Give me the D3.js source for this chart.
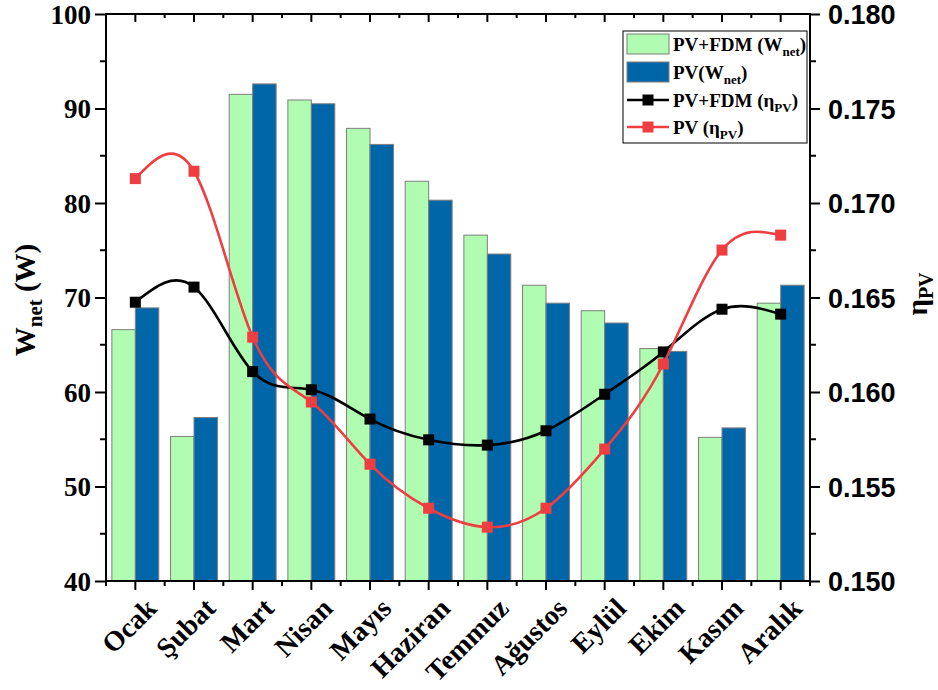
<!DOCTYPE html>
<html>
<head>
<meta charset="utf-8">
<script src="https://cdn.jsdelivr.net/npm/d3@7"></script>
<style>
html,body{margin:0;padding:0;background:#fff;}
svg{display:block;}
</style>
</head>
<body>
<svg id="chart" width="938" height="690"></svg>
<script>
const months = ["Ocak","Şubat","Mart","Nisan","Mayıs","Haziran","Temmuz","Ağustos","Eylül","Ekim","Kasım","Aralık"];
const wnetPVFDM = [66.6,55.3,91.5,90.9,87.9,82.3,76.6,71.3,68.6,64.6,55.2,69.4];
const wnetPV    = [68.9,57.3,92.6,90.5,86.2,80.3,74.6,69.4,67.3,64.3,56.2,71.3];
const etaPVFDM  = [0.16475,0.16555,0.16108,0.16012,0.15857,0.15747,0.15719,0.15795,0.15988,0.16212,0.16438,0.16412];
const etaPV     = [0.17129,0.17168,0.16290,0.15947,0.15618,0.15385,0.15285,0.15385,0.15698,0.16148,0.16751,0.16830];
const leftTicks  = [40,50,60,70,80,90,100];
const rightTicks = [0.150,0.155,0.160,0.165,0.170,0.175,0.180];

const colGreen = "#b0fcb0", colBlue = "#0066a8", colRed = "#ef3e42", colBlack = "#000000";
const serif = "'Liberation Serif','Times New Roman',serif";
const sans  = "'Liberation Sans',Arial,sans-serif";

const svg = d3.select("#chart");
const L = 106, R = 810, T = 14, B = 581;

const x = d3.scaleBand().domain(months).range([L, R]).padding(0);
const yL = d3.scaleLinear().domain([40, 100]).range([B, T]);
const yR = d3.scaleLinear().domain([0.150, 0.180]).range([B, T]);
const bw = x.bandwidth() * 0.4;

// Bars
const g = svg.append("g");
g.selectAll("rect.g1").data(months).enter().append("rect")
  .attr("x", d => x(d) + x.bandwidth()/2 - bw)
  .attr("y", (d,i) => yL(wnetPVFDM[i]))
  .attr("width", bw)
  .attr("height", (d,i) => yL(40) - yL(wnetPVFDM[i]))
  .attr("fill", colGreen).attr("stroke", "#7f7f7f").attr("stroke-width", 1);
g.selectAll("rect.b1").data(months).enter().append("rect")
  .attr("x", d => x(d) + x.bandwidth()/2)
  .attr("y", (d,i) => yL(wnetPV[i]))
  .attr("width", bw)
  .attr("height", (d,i) => yL(40) - yL(wnetPV[i]))
  .attr("fill", colBlue).attr("stroke", "#7f7f7f").attr("stroke-width", 1);

// Lines
const cx = d => x(d) + x.bandwidth()/2;
const line = d3.line().x(d => cx(d[0])).y(d => yR(d[1])).curve(d3.curveNatural);
function series(vals, col) {
  const pts = months.map((m,i) => [m, vals[i]]);
  svg.append("path").attr("d", line(pts)).attr("fill","none")
    .attr("stroke", col).attr("stroke-width", 2.6);
  svg.append("g").selectAll("rect").data(pts).enter().append("rect")
    .attr("x", d => cx(d[0]) - 5.5).attr("y", d => yR(d[1]) - 5.5)
    .attr("width", 11).attr("height", 11).attr("fill", col);
}
series(etaPVFDM, colBlack);
series(etaPV, colRed);

// Axes
const axisG = svg.append("g");
const leftAxis = d3.axisLeft(yL).tickValues(leftTicks).tickSize(11).tickPadding(4).tickFormat(d3.format("d"));
const la = axisG.append("g").attr("transform", `translate(${L},0)`).call(leftAxis);
la.select(".domain").remove();
la.selectAll("text").attr("font-family", serif).attr("font-weight","bold").attr("font-size", 27).attr("fill","#000").attr("dy","0.34em");
la.selectAll("line").attr("stroke-width", 2);
axisG.append("g").selectAll("line").data(d3.range(45, 100, 10)).enter().append("line")
  .attr("x1", L - 6).attr("x2", L).attr("y1", d => yL(d)).attr("y2", d => yL(d))
  .attr("stroke","#000").attr("stroke-width", 2);

const rightAxis = d3.axisRight(yR).tickValues(rightTicks).tickSize(10).tickPadding(8).tickFormat(d3.format(".3f"));
const ra = axisG.append("g").attr("transform", `translate(${R},0)`).call(rightAxis);
ra.select(".domain").remove();
ra.selectAll("text").attr("font-family", sans).attr("font-weight","bold").attr("font-size", 27).attr("fill","#000").attr("dy","0.36em");
ra.selectAll("line").attr("stroke-width", 2);
axisG.append("g").selectAll("line").data(d3.range(0.1525, 0.180, 0.005)).enter().append("line")
  .attr("x1", R).attr("x2", R + 6).attr("y1", d => yR(d)).attr("y2", d => yR(d))
  .attr("stroke","#000").attr("stroke-width", 2);

// Bottom axis
const bottomAxis = d3.axisBottom(x).tickSize(9).tickFormat("");
const ba = axisG.append("g").attr("transform", `translate(0,${B})`).call(bottomAxis);
ba.select(".domain").remove();
ba.selectAll("line").attr("stroke-width", 2);
const bounds = months.map(m => x(m)).concat([R]);
axisG.append("g").selectAll("line").data(bounds).enter().append("line")
  .attr("x1", d => d).attr("x2", d => d).attr("y1", B).attr("y2", B + 5)
  .attr("stroke","#000").attr("stroke-width", 2);
// Top axis ticks (inward)
const topAxis = d3.axisBottom(x).tickSize(8).tickFormat("");
const tA = axisG.append("g").attr("transform", `translate(0,${T})`).call(topAxis);
tA.select(".domain").remove();
tA.selectAll("line").attr("stroke-width", 2);
axisG.append("g").selectAll("line").data(bounds).enter().append("line")
  .attr("x1", d => d).attr("x2", d => d).attr("y1", T).attr("y2", T + 4)
  .attr("stroke","#000").attr("stroke-width", 2);

// Frame
axisG.append("rect").attr("x", L).attr("y", T).attr("width", R - L).attr("height", B - T)
  .attr("fill","none").attr("stroke","#000").attr("stroke-width", 2);

// X labels
svg.append("g").selectAll("text").data(months).enter().append("text")
  .attr("transform", d => `translate(${cx(d) + 23},${B + 29}) rotate(-45)`)
  .attr("text-anchor","end")
  .attr("font-family", serif).attr("font-weight","bold").attr("font-size", 28)
  .text(d => d);

// Left axis title
const lt = svg.append("text").attr("transform", `translate(35,300) rotate(-90)`)
  .attr("text-anchor","middle").attr("font-family", serif).attr("font-weight","bold").attr("font-size", 29);
lt.append("tspan").text("W");
lt.append("tspan").attr("font-size", 21).attr("dy", 7).text("net");
lt.append("tspan").attr("dy", -7).text(" (W)");

// Right axis title
const rt = svg.append("text").attr("transform", `translate(927,294) rotate(-90)`)
  .attr("text-anchor","middle").attr("font-family", serif).attr("font-weight","bold").attr("font-size", 29);
rt.append("tspan").text("η");
rt.append("tspan").attr("font-size", 20).attr("dy", 6).text("PV");

// Legend
const lg = svg.append("g");
lg.append("rect").attr("x", 623).attr("y", 31).attr("width", 184).attr("height", 112)
  .attr("fill","#fff").attr("stroke","#000").attr("stroke-width", 1);
const rows = [44, 72, 100, 127];
lg.append("rect").attr("x", 627).attr("y", rows[0]-10).attr("width", 42).attr("height", 20)
  .attr("fill", colGreen).attr("stroke","#7f7f7f");
lg.append("rect").attr("x", 627).attr("y", rows[1]-10).attr("width", 42).attr("height", 20)
  .attr("fill", colBlue).attr("stroke","#7f7f7f");
[[rows[2], colBlack],[rows[3], colRed]].forEach(([yy, c]) => {
  lg.append("line").attr("x1", 627).attr("x2", 669).attr("y1", yy).attr("y2", yy)
    .attr("stroke", c).attr("stroke-width", 2.6);
  lg.append("rect").attr("x", 648-5.5).attr("y", yy-5.5).attr("width", 11).attr("height", 11).attr("fill", c);
});
const labels = [["PV+FDM (W","net",")"],["PV(W","net",")"],["PV+FDM (η","PV",")"],["PV (η","PV",")"]];
labels.forEach((lb, i) => {
  const t = lg.append("text").attr("x", 673).attr("y", rows[i] + 7)
    .attr("font-family", serif).attr("font-weight","bold").attr("font-size", 19);
  t.append("tspan").text(lb[0]);
  t.append("tspan").attr("font-size", 13).attr("dy", 5).text(lb[1]);
  t.append("tspan").attr("dy", -5).text(lb[2]);
});
</script>
</body>
</html>
